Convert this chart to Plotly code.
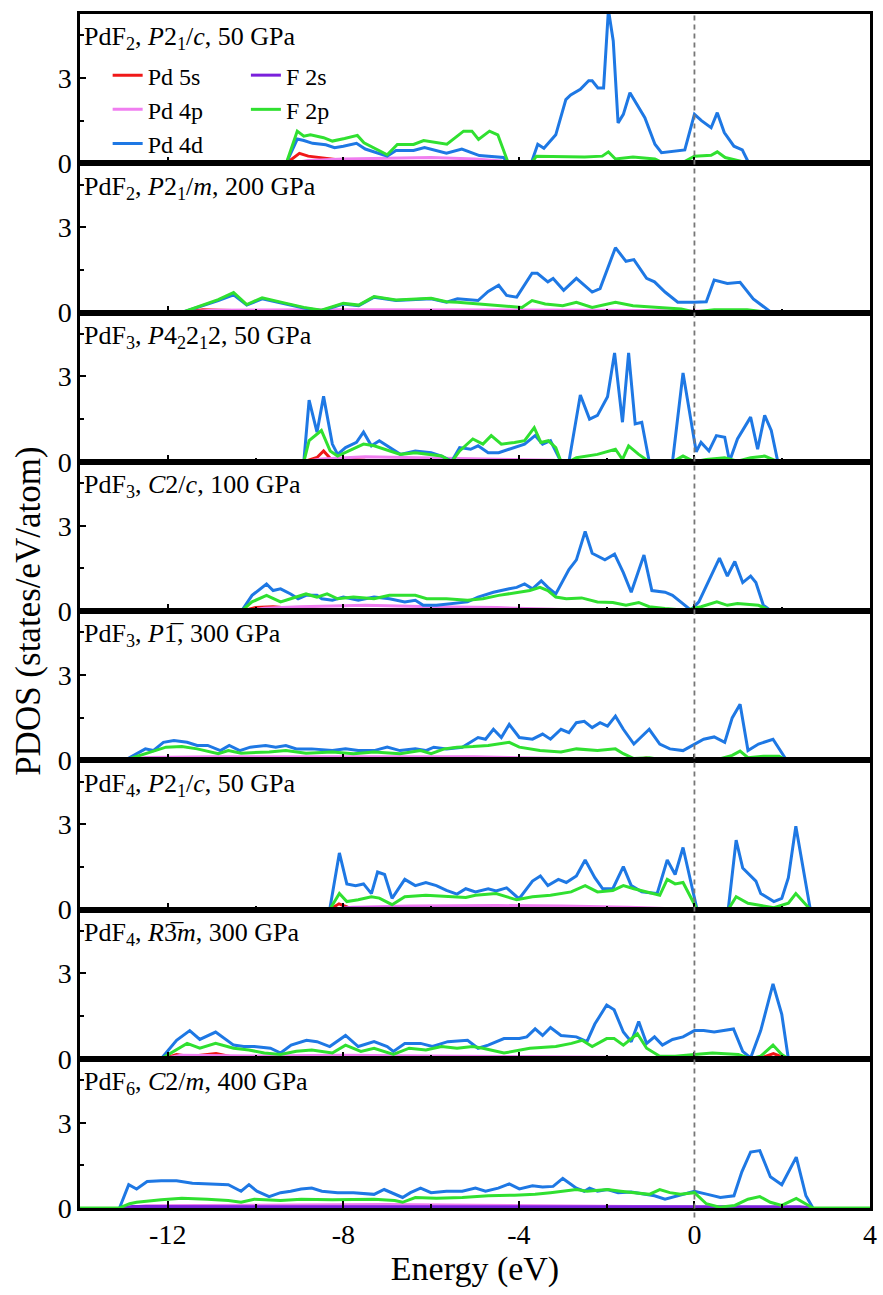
import plotly.graph_objects as go
from plotly.subplots import make_subplots

ORBITALS = ["Pd 5s", "Pd 4p", "Pd 4d", "F 2s", "F 2p"]
COLORS = ["#F01818", "#F07EF0", "#1E78E4", "#7A20DC", "#30E030"]
LEGEND_OF = ["legend", "legend", "legend", "legend2", "legend2"]

PANEL_LABELS = [
    "PdF<sub>2</sub>, <i>P</i>2<sub>1</sub>/<i>c</i>, 50 GPa",
    "PdF<sub>2</sub>, <i>P</i>2<sub>1</sub>/<i>m</i>, 200 GPa",
    "PdF<sub>3</sub>, <i>P</i>4<sub>2</sub>2<sub>1</sub>2, 50 GPa",
    "PdF<sub>3</sub>, <i>C</i>2/<i>c</i>, 100 GPa",
    "PdF<sub>3</sub>, <i>P</i>1\u0305, 300 GPa",
    "PdF<sub>4</sub>, <i>P</i>2<sub>1</sub>/<i>c</i>, 50 GPa",
    "PdF<sub>4</sub>, <i>R</i>3\u0305<i>m</i>, 300 GPa",
    "PdF<sub>6</sub>, <i>C</i>2/<i>m</i>, 400 GPa",
]

X_TICKS = [-12, -8, -4, 0, 4]
X_TICKTEXT = ["-12", "-8", "-4", "0", "4"]
X_MINOR = [-14, -10, -6, -2, 2]
Y_TICKS = [0, 3]
Y_MINOR = [1.5, 4.5]
X_RANGE = [-14, 4]
Y_RANGE = [0, 5.25]
FERMI = 0

# ---------------- Panel 1: PdF2 P21/c 50 GPa ----------------
p1_s_E = [-9.3, -9.0, -8.8, -8.5, -8.0, -7.0, -4.3, -4.24]
p1_s = [0, 0.35, 0.25, 0.2, 0.1, 0.06, 0.03, 0]
p1_p_E = [-9.2, -8.8, -8.0, -7.0, -6.0, -5.0, -4.4, -4.24]
p1_p = [0, 0.1, 0.15, 0.18, 0.2, 0.15, 0.08, 0]
p1_d_E = [-9.3, -9.05, -8.9, -8.7, -8.4, -8.2, -8.0, -7.7, -7.5, -7.2, -7.0, -6.8, -6.4, -6.15,
          -5.65, -5.3, -4.9, -4.35, -4.24, -3.72, -3.57, -3.43, -3.16, -2.93, -2.82, -2.6, -2.41,
          -2.33, -2.2, -2.07, -1.96, -1.85, -1.74, -1.62, -1.47, -1.13, -0.9, -0.75, -0.22, 0.0,
          0.16, 0.38, 0.52, 0.68, 0.9, 1.09, 1.24]
p1_d = [0, 0.85, 0.8, 0.7, 0.65, 0.55, 0.6, 0.7, 0.5, 0.35, 0.25, 0.45, 0.45, 0.55,
        0.35, 0.5, 0.27, 0.2, 0, 0, 0.67, 0.53, 1.0, 2.24, 2.4, 2.6, 2.9,
        2.9, 2.65, 2.65, 5.4, 4.3, 1.42, 1.72, 2.48, 1.6, 0.67, 0.37, 0.47, 1.72,
        1.5, 1.25, 1.78, 1.08, 0.6, 0.47, 0]
p1_Fs_E = [-9.3, -9.0, -4.4, -4.24]
p1_Fs = [0, 0.04, 0.03, 0]
p1_Fp_E = [-9.3, -9.05, -8.9, -8.75, -8.45, -8.25, -7.97, -7.68, -7.53, -7.0, -6.77, -6.4, -6.17,
           -5.64, -5.26, -5.07, -4.92, -4.67, -4.48, -4.24, -3.72, -3.6, -2.5, -2.1, -1.96, -1.8,
           -1.4, -0.9, -0.7, -0.3, 0.0, 0.38, 0.52, 0.7, 1.24]
p1_Fp = [0, 1.13, 0.95, 1.0, 0.9, 0.78, 0.87, 0.98, 0.72, 0.3, 0.66, 0.66, 0.8,
         0.67, 1.13, 1.13, 0.84, 1.13, 1.0, 0, 0, 0.25, 0.22, 0.25, 0.4, 0.15,
         0.22, 0.15, 0.0, 0.0, 0.25, 0.28, 0.4, 0.2, 0]

# ---------------- Panel 2: PdF2 P21/m 200 GPa ----------------
p2_s_E = [-11.7, -11.2, -10.8, -10.0, -4.0, 1.7]
p2_s = [0, 0.1, 0.08, 0.05, 0.03, 0]
p2_p_E = [-11.7, -11.0, -8.0, -5.0, -2.0, 0.0, 1.7]
p2_p = [0, 0.08, 0.1, 0.1, 0.08, 0.05, 0]
p2_d_E = [-11.68, -11.2, -10.85, -10.5, -10.2, -9.85, -9.55, -9.3, -8.9, -8.5, -8.0, -7.65, -7.3,
          -6.8, -6.0, -5.65, -5.4, -4.93, -4.7, -4.46, -4.28, -4.05, -3.7, -3.58, -3.34, -3.22,
          -2.98, -2.69, -2.33, -2.15, -1.8, -1.56, -1.38, -1.09, -0.91, -0.67, -0.38, 0.0, 0.27,
          0.45, 0.75, 1.04, 1.34, 1.75]
p2_d = [0, 0.24, 0.42, 0.62, 0.26, 0.48, 0.38, 0.3, 0.16, 0.06, 0.3, 0.24, 0.54,
        0.42, 0.48, 0.36, 0.48, 0.42, 0.74, 0.96, 0.6, 0.54, 1.38, 1.38, 1.08, 1.2,
        0.78, 1.2, 0.72, 0.84, 2.28, 1.8, 1.86, 1.2, 1.08, 0.72, 0.36, 0.36, 0.38,
        1.14, 1.02, 1.06, 0.48, 0]
p2_Fs_E = [-11.7, -11.3, 1.4, 1.75]
p2_Fs = [0, 0.03, 0.02, 0]
p2_Fp_E = [-11.68, -11.2, -10.85, -10.5, -10.2, -9.85, -9.55, -9.3, -8.9, -8.5, -8.0, -7.65, -7.3,
           -6.8, -6.0, -5.65, -5.4, -4.93, -4.46, -3.93, -3.7, -3.4, -3.0, -2.69, -2.33, -1.8,
           -1.4, -0.9, -0.3, 0.0, 0.45, 1.2, 1.75]
p2_Fp = [0, 0.26, 0.45, 0.7, 0.28, 0.52, 0.4, 0.32, 0.18, 0.08, 0.32, 0.26, 0.56,
         0.44, 0.5, 0.38, 0.36, 0.3, 0.26, 0.18, 0.42, 0.3, 0.24, 0.36, 0.18, 0.36,
         0.24, 0.18, 0.12, 0.02, 0.1, 0.1, 0]

# ---------------- Panel 3: PdF3 P42212 50 GPa ----------------
p3_s_E = [-8.9, -8.6, -8.45, -8.3, -8.0, -7.5, -3.1, -3.04]
p3_s = [0, 0.15, 0.38, 0.12, 0.1, 0.05, 0.02, 0]
p3_p_E = [-8.9, -8.5, -7.5, -6.5, -5.0, -3.2, -3.04]
p3_p = [0, 0.1, 0.18, 0.15, 0.1, 0.05, 0]
p3_d_E = [-8.9, -8.78, -8.6, -8.45, -8.25, -8.13, -7.95, -7.7, -7.54, -7.36, -7.18, -6.95, -6.7,
          -6.36, -6.0, -5.76, -5.53, -5.35, -5.1, -4.93, -4.7, -4.46, -4.1, -3.87, -3.63, -3.46,
          -3.28, -3.04, -2.86, -2.6, -2.39, -2.21, -1.98, -1.82, -1.64, -1.5, -1.35, -1.2, -1.03,
          -0.5, -0.26, 0.04, 0.15, 0.33, 0.5, 0.69, 0.8, 0.98, 1.28, 1.44, 1.6, 1.75, 1.9]
p3_d = [0, 2.17, 1.04, 2.3, 0.62, 0.26, 0.5, 0.68, 1.04, 0.56, 0.74, 0.5, 0.26,
        0.38, 0.32, 0.2, 0.02, 0.5, 0.44, 0.56, 0.32, 0.32, 0.5, 0.62, 0.92, 0.62,
        0.74, 0, 0, 2.35, 1.5, 1.63, 2.29, 3.83, 1.39, 3.83, 1.33, 1.39, 0,
        0, 3.12, 0.35, 0.68, 0.38, 0.92, 0.86, 0.02, 0.8, 1.57, 0.44, 1.63, 1.1, 0]
p3_Fs_E = [-8.9, -8.6, -3.2, -3.04]
p3_Fs = [0, 0.04, 0.03, 0]
p3_Fp_E = [-8.9, -8.78, -8.5, -8.3, -8.13, -7.95, -7.7, -7.54, -7.3, -7.06, -6.7, -6.36, -5.76,
           -5.53, -5.35, -5.05, -4.82, -4.63, -4.4, -4.1, -3.87, -3.65, -3.5, -3.33, -3.16, -3.04,
           -2.86, -2.69, -2.21, -1.8, -1.64, -1.5, -1.27, -1.03, -0.5, -0.26, 0.0, 0.27, 0.69,
           0.98, 1.28, 1.6, 1.9]
p3_Fp = [0, 0.74, 1.1, 0.38, 0.2, 0.32, 0.5, 0.62, 0.56, 0.44, 0.26, 0.32, 0.2,
         0, 0.38, 0.8, 0.62, 0.92, 0.62, 0.68, 0.74, 1.2, 0.68, 0.74, 0.5, 0,
         0, 0.14, 0.26, 0.44, 0.08, 0.56, 0.26, 0, 0, 0.2, 0.0, 0.08, 0.14,
         0.02, 0.14, 0.2, 0]

# ---------------- Panel 4: PdF3 C2/c 100 GPa ----------------
p4_s_E = [-10.3, -10.0, -9.6, -9.2, -8.5, -2.0, -1.0, 1.7]
p4_s = [0, 0.12, 0.15, 0.1, 0.05, 0.03, 0.05, 0]
p4_p_E = [-10.3, -9.8, -9.0, -7.5, -6.0, -4.5, -3.0, 1.7]
p4_p = [0, 0.1, 0.15, 0.2, 0.15, 0.12, 0.05, 0]
p4_d_E = [-10.32, -10.08, -9.75, -9.6, -9.43, -9.2, -9.03, -8.85, -8.6, -8.49, -8.25, -8.0, -7.66,
          -7.3, -6.95, -6.6, -6.36, -6.18, -5.88, -5.53, -5.17, -4.93, -4.58, -4.22, -4.05, -3.87,
          -3.69, -3.49, -3.34, -3.16, -2.86, -2.69, -2.49, -2.33, -2.04, -1.82, -1.62, -1.44, -1.15,
          -0.97, -0.67, -0.5, -0.32, -0.08, 0.1, 0.27, 0.57, 0.75, 0.92, 1.1, 1.28, 1.4, 1.57, 1.75]
p4_d = [0, 0.55, 0.95, 0.72, 0.78, 0.6, 0.43, 0.55, 0.55, 0.43, 0.38, 0.49, 0.38,
        0.49, 0.43, 0.32, 0.38, 0.2, 0.2, 0.26, 0.32, 0.49, 0.66, 0.78, 0.83, 0.95,
        0.78, 1.06, 0.83, 0.6, 1.46, 1.8, 2.8, 2.03, 1.8, 2.0, 1.35, 0.66, 1.97,
        0.72, 0.66, 0.55, 0.32, 0.03, 0.32, 0.89, 1.86, 1.23, 1.74, 1.0, 1.23, 1.0, 0.2, 0]
p4_Fs_E = [-10.3, -10.0, 1.5, 1.75]
p4_Fs = [0, 0.04, 0.02, 0]
p4_Fp_E = [-10.32, -10.08, -9.75, -9.43, -9.2, -8.85, -8.6, -8.37, -8.13, -7.77, -7.3, -6.95, -6.6,
           -6.36, -6.1, -5.65, -5.17, -4.82, -4.46, -4.05, -3.75, -3.52, -3.34, -3.16, -2.92, -2.57,
           -2.21, -1.86, -1.56, -1.27, -1.03, -0.67, -0.2, 0.15, 0.51, 0.75, 0.98, 1.46, 1.75]
p4_Fp = [0, 0.32, 0.55, 0.32, 0.43, 0.6, 0.49, 0.6, 0.43, 0.49, 0.43, 0.55, 0.55,
         0.55, 0.43, 0.43, 0.38, 0.43, 0.55, 0.66, 0.72, 0.83, 0.72, 0.49, 0.43, 0.46,
         0.32, 0.3, 0.2, 0.3, 0.15, 0.09, 0.03, 0.15, 0.32, 0.2, 0.26, 0.2, 0]

# ---------------- Panel 5: PdF3 P-1 300 GPa ----------------
p5_s_E = [-12.98, -12.5, -8.0, -4.0, -1.3, -1.1, -0.9, 2.1]
p5_s = [0, 0.05, 0.05, 0.04, 0.03, 0.08, 0.02, 0]
p5_p_E = [-12.98, -12.5, -11.0, -8.0, -5.0, -3.0, -1.0, 2.1]
p5_p = [0, 0.1, 0.12, 0.12, 0.12, 0.06, 0.03, 0]
p5_d_E = [-12.98, -12.69, -12.51, -12.33, -12.1, -11.86, -11.56, -11.33, -11.09, -10.8, -10.6,
          -10.36, -10.12, -9.77, -9.54, -9.31, -9.07, -8.72, -8.25, -7.95, -7.66, -7.3, -7.0,
          -6.71, -6.36, -6.12, -5.94, -5.65, -5.29, -4.93, -4.76, -4.58, -4.4, -4.22, -3.99,
          -3.69, -3.46, -3.28, -3.04, -2.86, -2.69, -2.51, -2.33, -2.15, -1.98, -1.8, -1.62,
          -1.38, -1.03, -0.79, -0.56, -0.26, 0.0, 0.21, 0.45, 0.69, 0.86, 1.04, 1.22, 1.46,
          1.79, 2.1]
p5_d = [0, 0.23, 0.4, 0.34, 0.63, 0.69, 0.63, 0.52, 0.52, 0.34, 0.52,
        0.34, 0.46, 0.52, 0.46, 0.52, 0.4, 0.4, 0.34, 0.4, 0.34, 0.34, 0.46,
        0.34, 0.4, 0.34, 0.46, 0.4, 0.46, 0.8, 0.74, 1.09, 0.8, 1.26, 0.8,
        0.74, 0.92, 0.74, 1.09, 0.97, 1.32, 1.37, 1.15, 1.32, 1.2, 1.55, 1.09,
        0.57, 1.09, 0.57, 0.4, 0.34, 0.57, 0.74, 0.82, 0.63, 1.49, 1.97, 0.34, 0.57,
        0.74, 0]
p5_Fs_E = [-12.98, -12.6, 1.8, 2.1]
p5_Fs = [0, 0.04, 0.02, 0]
p5_Fp_E = [-12.98, -12.63, -12.33, -12.04, -11.68, -11.33, -10.85, -10.62, -10.33, -9.69, -9.31,
           -8.85, -8.25, -7.77, -7.3, -6.71, -6.24, -6.0, -5.7, -5.41, -5.05, -4.7, -4.22, -3.99,
           -3.52, -3.04, -2.69, -2.21, -1.8, -1.62, -1.38, -1.03, -0.67, 0.0, 0.51, 0.86, 1.04,
           1.22, 1.57, 1.93, 2.1]
p5_Fp = [0, 0.17, 0.34, 0.46, 0.48, 0.4, 0.23, 0.34, 0.25, 0.29, 0.34,
         0.25, 0.29, 0.23, 0.29, 0.23, 0.34, 0.23, 0.4, 0.46, 0.48, 0.52, 0.63, 0.46,
         0.34, 0.29, 0.4, 0.34, 0.4, 0.23, 0.06, 0.09, 0.0, 0.0, 0.02, 0.17, 0.32,
         0.09, 0.14, 0.14, 0]

# ---------------- Panel 6: PdF4 P21/c 50 GPa ----------------
p6_s_E = [-8.31, -8.1, -7.9, -7.0, -2.5, -0.3, 0.06]
p6_s = [0, 0.2, 0.08, 0.05, 0.05, 0.03, 0]
p6_p_E = [-8.3, -7.8, -6.5, -4.5, -3.0, -1.5, 0.0]
p6_p = [0, 0.08, 0.12, 0.14, 0.12, 0.08, 0]
p6_d_E = [-8.31, -8.09, -7.92, -7.72, -7.54, -7.36, -7.22, -7.06, -6.89, -6.6, -6.36, -6.12, -5.88,
          -5.65, -5.41, -5.21, -4.99, -4.7, -4.52, -4.28, -4.05, -3.99, -3.69, -3.51, -3.34, -3.1,
          -2.92, -2.69, -2.49, -2.27, -2.09, -1.86, -1.62, -1.44, -1.2, -0.85, -0.62, -0.44, -0.26,
          0.06, 0.77, 0.95, 1.1, 1.4, 1.51, 1.81, 1.99, 2.14, 2.31, 2.46, 2.64]
p6_d = [0, 1.99, 0.9, 0.84, 0.9, 0.56, 1.32, 1.23, 0.39, 1.06, 0.84, 0.95, 0.84,
        0.67, 0.54, 0.73, 0.62, 0.73, 0.65, 0.76, 0.45, 0.39, 1.0, 1.18, 0.84, 1.06,
        0.95, 1.18, 1.74, 1.12, 0.73, 0.73, 1.51, 0.84, 0.62, 0.56, 1.74, 1.23, 2.18,
        0, 0, 2.44, 1.46, 1.0, 0.56, 0.28, 0.39, 1.12, 2.93, 1.57, 0]
p6_Fs_E = [-8.31, -8.0, -0.2, 0.06]
p6_Fs = [0, 0.04, 0.03, 0]
p6_Fp_E = [-8.31, -8.09, -7.92, -7.66, -7.36, -7.18, -6.89, -6.6, -6.12, -5.65, -5.21, -4.99, -4.52,
           -4.05, -3.69, -3.28, -2.81, -2.49, -2.21, -1.86, -1.62, -1.38, -1.09, -0.79, -0.62,
           -0.44, -0.26, 0.06, 0.77, 0.95, 1.22, 1.81, 2.14, 2.31, 2.64]
p6_Fp = [0, 0.56, 0.28, 0.34, 0.45, 0.4, 0.17, 0.45, 0.5, 0.47, 0.42, 0.5, 0.56,
         0.34, 0.45, 0.5, 0.62, 0.84, 0.62, 0.67, 0.84, 0.73, 0.62, 0.5, 1.06,
         0.9, 0.95, 0, 0, 0.45, 0.22, 0.06, 0.22, 0.56, 0]

# ---------------- Panel 7: PdF4 R-3m 300 GPa ----------------
p7_s_E = [-12.1, -11.8, -11.5, -10.9, -10.5, -9.0, -1.0, 1.5, 1.8, 2.1]
p7_s = [0, 0.15, 0.08, 0.18, 0.05, 0.05, 0.03, 0.02, 0.18, 0]
p7_p_E = [-12.1, -11.7, -10.0, -8.0, -6.0, -4.0, -2.0, 2.1]
p7_p = [0, 0.12, 0.1, 0.12, 0.1, 0.08, 0.05, 0]
p7_d_E = [-12.15, -11.8, -11.5, -11.27, -10.91, -10.5, -10.27, -10.03, -9.66, -9.43, -9.19, -8.84,
          -8.6, -8.31, -7.95, -7.66, -7.3, -7.0, -6.86, -6.6, -6.24, -5.97, -5.62, -5.17, -4.93,
          -4.7, -4.34, -3.99, -3.82, -3.63, -3.46, -3.28, -3.04, -2.69, -2.45, -2.27, -2.0, -1.83,
          -1.62, -1.44, -1.27, -1.09, -0.91, -0.73, -0.5, -0.26, 0.0, 0.21, 0.45, 0.69, 0.89, 1.1,
          1.28, 1.51, 1.79, 1.99, 2.14]
p7_d = [0, 0.65, 0.99, 0.68, 0.94, 0.48, 0.43, 0.43, 0.37, 0.2, 0.48, 0.65,
        0.6, 0.43, 0.82, 0.43, 0.6, 0.43, 0.26, 0.54, 0.54, 0.43, 0.6, 0.65, 0.37,
        0.48, 0.71, 0.71, 0.77, 1.05, 0.82, 1.1, 0.82, 0.77, 0.6, 1.22, 1.89, 1.72,
        0.94, 0.6, 1.31, 0.54, 0.77, 0.48, 0.68, 0.77, 0.99, 0.99, 0.94, 0.99, 1.05, 0.26,
        0.03, 0.99, 2.63, 1.56, 0]
p7_Fs_E = [-12.15, -11.8, 1.9, 2.14]
p7_Fs = [0, 0.04, 0.02, 0]
p7_Fp_E = [-12.15, -11.86, -11.56, -11.27, -10.91, -10.5, -10.15, -9.8, -9.43, -9.07, -8.72, -8.25,
           -7.95, -7.6, -7.3, -6.86, -6.5, -6.12, -5.76, -5.41, -5.05, -4.82, -4.34, -3.75, -3.16,
           -2.8, -2.56, -2.33, -2.0, -1.83, -1.62, -1.3, -1.09, -0.79, -0.44, 0.0, 0.41, 1.0, 1.28,
           1.51, 1.79, 1.99, 2.14]
p7_Fp = [0, 0.26, 0.54, 0.37, 0.54, 0.37, 0.31, 0.2, 0.15, 0.26, 0.31, 0.2,
         0.48, 0.26, 0.37, 0.15, 0.37, 0.31, 0.43, 0.37, 0.43, 0.37, 0.2, 0.37, 0.43,
         0.54, 0.65, 0.43, 0.71, 0.71, 0.48, 0.88, 0.37, 0.09, 0.09, 0.15, 0.2, 0.15, 0,
         0.09, 0.48, 0.15, 0]

# ---------------- Panel 8: PdF6 C2/m 400 GPa ----------------
p8_s_E = [-13.1, -12.7, -6.0, 0.0, 2.5, 2.7]
p8_s = [0, 0.03, 0.03, 0.02, 0.02, 0]
p8_p_E = [-13.0, -12.5, -10.0, -7.0, -5.0, -3.0, -1.0, 1.0, 2.7]
p8_p = [0, 0.08, 0.1, 0.12, 0.1, 0.08, 0.05, 0.03, 0]
p8_d_E = [-13.1, -12.89, -12.71, -12.47, -12.15, -11.8, -11.44, -10.85, -10.62, -10.33, -10.15,
          -9.97, -9.69, -9.43, -9.2, -8.96, -8.72, -8.49, -8.13, -7.77, -7.3, -7.07, -6.83, -6.65,
          -6.47, -6.24, -6.0, -5.65, -5.29, -4.99, -4.76, -4.47, -4.22, -3.99, -3.69, -3.46,
          -3.22, -3.0, -2.69, -2.51, -2.39, -2.21, -1.98, -1.74, -1.44, -1.15, -0.91, -0.67,
          -0.38, 0.0, 0.3, 0.59, 0.9, 1.08, 1.28, 1.49, 1.73, 1.99, 2.32, 2.54, 2.7]
p8_d = [0, 0.82, 0.67, 0.93, 0.96, 0.96, 0.87, 0.85, 0.82, 0.59, 0.82,
        0.59, 0.4, 0.54, 0.59, 0.67, 0.7, 0.59, 0.54, 0.54, 0.48, 0.65, 0.48, 0.37,
        0.54, 0.7, 0.54, 0.59, 0.59, 0.7, 0.59, 0.7, 0.85, 0.67, 0.78, 0.74,
        0.76, 1.04, 0.7, 0.59, 0.7, 0.59, 0.65, 0.54, 0.56, 0.48, 0.43, 0.31,
        0.43, 0.59, 0.48, 0.37, 0.43, 1.27, 1.97, 2.02, 1.1, 0.82, 1.79, 0.43, 0]
p8_Fs_E = [-13.1, -12.8, 2.4, 2.7]
p8_Fs = [0, 0.05, 0.04, 0]
p8_Fp_E = [-14.0, -13.1, -12.87, -12.71, -12.15, -11.68, -11.1, -10.62, -10.33, -10.03, -9.43,
           -8.96, -8.25, -7.77, -7.3, -6.83, -6.65, -6.36, -5.88, -5.29, -4.7, -4.1, -3.63, -3.28,
           -3.0, -2.69, -2.45, -1.98, -1.68, -1.38, -1.03, -0.79, -0.56, -0.32, 0.0, 0.27, 0.57,
           0.92, 1.22, 1.49, 1.73, 1.99, 2.32, 2.7, 4.0]
p8_Fp = [0, 0, 0.15, 0.2, 0.29, 0.34, 0.31, 0.26, 0.2, 0.31, 0.26,
         0.31, 0.29, 0.31, 0.31, 0.26, 0.2, 0.37, 0.34, 0.37, 0.43, 0.45, 0.48, 0.54,
         0.59, 0.65, 0.59, 0.65, 0.59, 0.54, 0.48, 0.65, 0.54, 0.48, 0.54, 0.15, 0.03,
         0.09, 0.31, 0.4, 0.2, 0.09, 0.34, 0, 0]

PANELS = [
    [(p1_s_E, p1_s), (p1_p_E, p1_p), (p1_d_E, p1_d), (p1_Fs_E, p1_Fs), (p1_Fp_E, p1_Fp)],
    [(p2_s_E, p2_s), (p2_p_E, p2_p), (p2_d_E, p2_d), (p2_Fs_E, p2_Fs), (p2_Fp_E, p2_Fp)],
    [(p3_s_E, p3_s), (p3_p_E, p3_p), (p3_d_E, p3_d), (p3_Fs_E, p3_Fs), (p3_Fp_E, p3_Fp)],
    [(p4_s_E, p4_s), (p4_p_E, p4_p), (p4_d_E, p4_d), (p4_Fs_E, p4_Fs), (p4_Fp_E, p4_Fp)],
    [(p5_s_E, p5_s), (p5_p_E, p5_p), (p5_d_E, p5_d), (p5_Fs_E, p5_Fs), (p5_Fp_E, p5_Fp)],
    [(p6_s_E, p6_s), (p6_p_E, p6_p), (p6_d_E, p6_d), (p6_Fs_E, p6_Fs), (p6_Fp_E, p6_Fp)],
    [(p7_s_E, p7_s), (p7_p_E, p7_p), (p7_d_E, p7_d), (p7_Fs_E, p7_Fs), (p7_Fp_E, p7_Fp)],
    [(p8_s_E, p8_s), (p8_p_E, p8_p), (p8_d_E, p8_d), (p8_Fs_E, p8_Fs), (p8_Fp_E, p8_Fp)],
]

FONT = "Liberation Serif"
N = len(PANELS)

fig = make_subplots(rows=N, cols=1, shared_xaxes=True, vertical_spacing=0)

for r, series in enumerate(PANELS, start=1):
    for k, (xs, ys) in enumerate(series):
        fig.add_trace(go.Scatter(
            x=xs, y=ys, mode="lines", name=ORBITALS[k],
            line=dict(color=COLORS[k], width=3),
            showlegend=(r == 1), legend=LEGEND_OF[k],
            hoverinfo="skip",
        ), row=r, col=1)
    fig.add_annotation(
        text=PANEL_LABELS[r - 1], xref="x domain" if r == 1 else f"x{r} domain",
        yref="y domain" if r == 1 else f"y{r} domain",
        x=0.002, y=0.958, xanchor="left", yanchor="top", showarrow=False,
        font=dict(family=FONT, size=26, color="black"),
    )

for r in range(1, N + 1):
    fig.update_xaxes(
        range=X_RANGE, tickvals=X_TICKS, ticktext=X_TICKTEXT, ticks="inside", ticklen=7,
        tickwidth=2, tickcolor="black", showline=True, linecolor="black", linewidth=2.5,
        mirror=True, showgrid=False, zeroline=False,
        minor=dict(tickvals=X_MINOR, ticks="inside", ticklen=4, tickwidth=2, tickcolor="black"),
        tickfont=dict(family=FONT, size=28, color="black"),
        row=r, col=1,
    )
    fig.update_yaxes(
        range=Y_RANGE, tickvals=Y_TICKS, ticks="inside", ticklen=6, tickwidth=2,
        tickcolor="black", showline=True, linecolor="black", linewidth=2.5, mirror=True,
        showgrid=False, zeroline=False,
        minor=dict(tickvals=Y_MINOR, ticks="inside", ticklen=4, tickwidth=2, tickcolor="black"),
        tickfont=dict(family=FONT, size=28, color="black"),
        row=r, col=1,
    )

fig.update_xaxes(title=dict(text="Energy (eV)", font=dict(family=FONT, size=34, color="black"),
                            standoff=4), row=N, col=1)

fig.add_shape(type="line", xref="x", yref="paper", x0=FERMI, x1=FERMI, y0=-0.008, y1=1,
              line=dict(color="#777777", width=1.8, dash="5px,4px"))

fig.add_annotation(text="PDOS (states/eV/atom)", xref="paper", yref="paper",
                   x=-0.066, y=0.5, xanchor="center", yanchor="middle", textangle=-90,
                   showarrow=False, font=dict(family=FONT, size=35, color="black"))

legend_common = dict(font=dict(family=FONT, size=24, color="black"), bgcolor="rgba(0,0,0,0)",
                     borderwidth=0, yanchor="top", xanchor="left", itemwidth=30,
                     tracegroupgap=0, itemclick=False, itemdoubleclick=False)

fig.update_layout(
    width=883, height=1295,
    margin=dict(l=80, r=6, t=14, b=87),
    paper_bgcolor="white", plot_bgcolor="white",
    font=dict(family=FONT, color="black"),
    legend=dict(x=0.035, y=0.9673, **legend_common),
    legend2=dict(x=0.21, y=0.9673, **legend_common),
)

fig.write_html("out.html")
